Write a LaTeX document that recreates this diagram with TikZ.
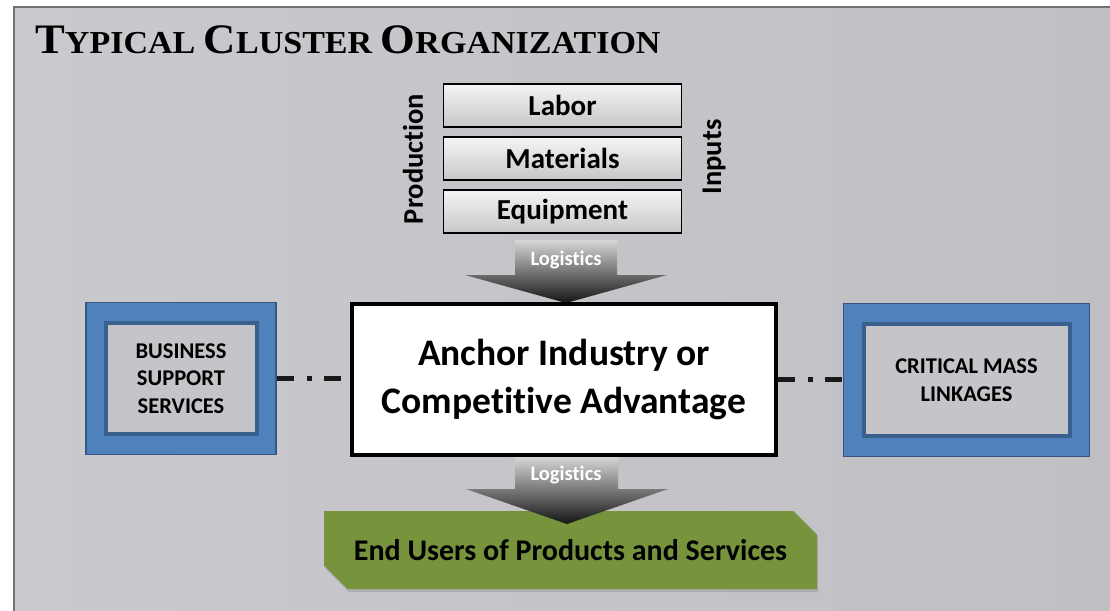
\documentclass[tikz,border=0pt]{standalone}
\usepackage{fontspec}
\setmainfont{Liberation Serif}
\newfontfamily\calibri[Ligatures=NoCommon]{Carlito}
\usepackage{tikz}
\usetikzlibrary{shapes.misc,shadows}

\definecolor{panelleft}{RGB}{202,202,206}
\definecolor{panelmid}{RGB}{182,182,187}
\definecolor{panelright}{RGB}{192,192,196}
\definecolor{panelline}{RGB}{112,112,117}
\definecolor{clusterblue}{RGB}{79,129,189}
\definecolor{blueline}{RGB}{58,96,142}
\definecolor{innergrey}{RGB}{197,197,201}
\definecolor{usergreen}{RGB}{119,147,60}

\newcommand{\titlecap}[1]{{\fontsize{42}{42}\selectfont #1}}

\tikzstyle{inputbox}=[draw=black,line width=1.4pt,top color=white!96!black,bottom color=black!22,
  minimum width=238pt,minimum height=43pt,inner sep=0pt,
  font=\calibri\bfseries\fontsize{29}{32}\selectfont]
\tikzstyle{sidelabel}=[rotate=90,inner sep=0pt,font=\calibri\bfseries\fontsize{28.5}{32}\selectfont]
\tikzstyle{outerblue}=[draw=blueline!90!black,line width=1.5pt,fill=clusterblue,inner sep=0pt]
\tikzstyle{innerblue}=[draw=blueline,line width=4pt,fill=innergrey,inner sep=0pt,align=center,
  font=\calibri\bfseries\fontsize{22.5}{27.5}\selectfont]
\tikzstyle{logshade}=[top color=black!16,bottom color=black!92]
\tikzstyle{loglabel}=[text=white,inner sep=0pt,font=\calibri\bfseries\fontsize{20.5}{22}\selectfont]
\tikzstyle{linkline}=[line width=5pt,draw=black!90,dash pattern=on 17pt off 13pt on 5pt off 12pt]

\begin{document}
\begin{tikzpicture}[x=1pt,y=-1pt]
  \useasboundingbox (0,0) rectangle (1110,610);
  \fill[white] (0,0) rectangle (1110,610);
  % panel
  \shade[left color=panelleft,middle color=panelmid,right color=panelright] (14,7) rectangle (1112,612);
  \draw[panelline,line width=2pt] (14,612) -- (14,7) -- (1112,7);

  \node[anchor=base west,inner sep=0pt,xscale=1.063,transform shape,
    font=\bfseries\fontsize{32}{32}\selectfont] (title) at (35,53)
    {\titlecap{T}YPICAL \titlecap{C}LUSTER \titlecap{O}RGANIZATION};

  % production inputs
  \shade[logshade] (515,240) -- (617,240) -- (617,275) -- (667,275) -- (566,303) -- (465,275) -- (515,275) -- cycle;
  \node[loglabel] (log1) at (566,260) {Logistics};

  \foreach \lab [count=\i] in {Labor,Materials,Equipment}
    \node[inputbox] (in\i) at (562.5,52.5+53*\i) {\lab};
  \node[sidelabel] (prod) at (413,159) {Production};
  \node[sidelabel] (inp) at (714,157) {Inputs};

  % support boxes
  \node[outerblue,minimum width=190pt,minimum height=152pt] (bss) at (181,378.5) {};
  \node[innerblue,minimum width=151pt,minimum height=111pt] (bssin) at (bss.center)
    {BUSINESS\\SUPPORT\\SERVICES};
  \node[outerblue,minimum width=246pt,minimum height=153pt] (cml) at (966.5,380) {};
  \node[innerblue,minimum width=206pt,minimum height=112pt] (cmlin) at (cml.center)
    {CRITICAL MASS\\LINKAGES};

  \node[draw=black,line width=4pt,fill=white,minimum width=424pt,minimum height=151pt,align=center,
    font=\calibri\bfseries\fontsize{37.5}{48}\selectfont] (anchor) at (564,379.5)
    {Anchor Industry or\\Competitive Advantage};

  % links
  \draw[linkline] (bss.east) -- (bss.east -| anchor.west);
  \draw[linkline] (anchor.east) -- (anchor.east -| cml.west);

  % end users
  \node[chamfered rectangle,chamfered rectangle corners={north east,south west},
    chamfered rectangle xsep=13pt,chamfered rectangle ysep=13pt,
    fill=usergreen,minimum width=493pt,minimum height=78pt,inner sep=0pt,
    drop shadow={shadow xshift=1pt,shadow yshift=-3pt,opacity=.35},
    font=\calibri\bfseries\fontsize{30}{32}\selectfont] (users) at (570.5,550)
    {End Users of Products and Services};

  \shade[logshade] (515,457) -- (618,457) -- (618,489) -- (668,489) -- (567,524) -- (466,489) -- (515,489) -- cycle;
  \node[loglabel] (log2) at (566,475) {Logistics};
\end{tikzpicture}
\end{document}
